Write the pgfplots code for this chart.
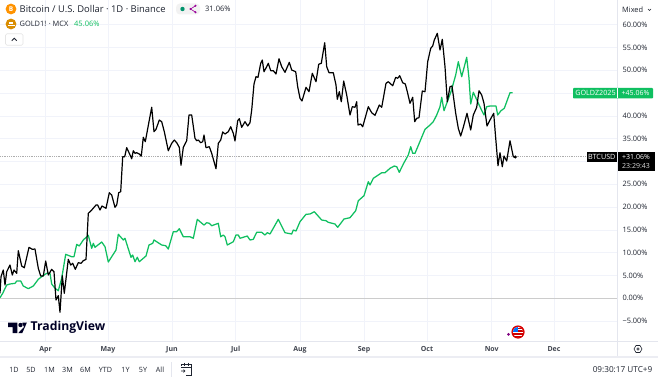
\documentclass[border=0pt]{standalone}
\usepackage{pgfplots}
\usepackage{fontspec}
\setmainfont{Open Sans}
\pgfplotsset{compat=1.18}
\definecolor{tvgreen}{HTML}{0FBF60}
\definecolor{gridc}{HTML}{F1F3FA}
\definecolor{sepc}{HTML}{E4E6EE}
\definecolor{txt}{HTML}{1F2430}
\begin{document}
\begin{tikzpicture}[x=1pt,y=1pt]
\path[use as bounding box,fill=white] (0pt,0pt) rectangle (658pt,378pt);
\begin{axis}[
  at={(0pt,37pt)},anchor=south west,scale only axis,width=618pt,height=341pt,
  xmin=0,xmax=618,ymin=-9.36,ymax=65.42,
  axis line style={draw=none},
  xtick={45.6,108,172,235.7,300,364,427,491.7,554},
  xticklabels={Apr,May,Jun,Jul,Aug,Sep,Oct,Nov,Dec},
  ytick={-5,0,5,10,15,20,25,30,35,40,45,50,55,60},
  yticklabels={−5.00\%,0.00\%,5.00\%,10.00\%,15.00\%,20.00\%,25.00\%,{},35.00\%,40.00\%,{},50.00\%,55.00\%,60.00\%},
  yticklabel pos=right,
  major tick length=0pt,
  grid=major,grid style={gridc,line width=0.7pt},
  tick label style={font=\fontsize{7.4}{8}\selectfont,text=txt},
  yticklabel style={anchor=west,xshift=1pt},
  xticklabel style={yshift=-1.8pt,font=\fontsize{7}{8}\selectfont\bfseries,text=txt!85},
  clip=true,axis on top=false,
]
\addplot[no marks,color=black!20,line width=0.8pt,forget plot] coordinates {(0,0)(618,0)};
\addplot[no marks,color=black!32,line width=0.8pt,densely dotted,forget plot] coordinates {(0,31.06)(590,31.06)};
% GOLD1! (per cent)
\addplot[no marks,color=tvgreen,line width=1.25pt,line join=round] coordinates {
(0,0.13)(2.7,1.10)(6.7,2.92)(10,3.14)(15,3.29)(16.7,3.79)(20.7,3.79)(23.3,2.70)(28.3,2.11)(33.3,2.70)
(38.3,4.17)(41.7,4.74)(46.7,5.48)(50,5.48)(51.7,3.14)(55,2.19)(58.3,1.67)(61.7,4.39)(65.7,9.65)(71.7,9.12)
(74,9.12)(76.7,11.84)(79.3,11.47)(83.3,12.79)(88.3,13.82)(91.7,10.96)(93.3,12.06)(95,11.18)(101.7,12.35)(105,11.32)
(108.3,7.96)(116,10.59)(118.3,14.04)(123.3,12.79)(125,13.16)(131,8.99)(132.7,9.50)(135,8.03)(137.3,8.99)(139.3,8.03)
(146,9.28)(149,11.69)(152.7,12.06)(154,12.79)(161.7,11.69)(165.7,11.54)(168.3,10.81)(173.3,14.61)(176.7,14.61)(179.3,15.26)
(183.3,13.51)(190,13.51)(193.3,13.16)(197.3,17.32)(200,16.80)(204,16.07)(206.7,16.58)(209.3,16.45)(211.7,15.92)(218.3,16.45)
(220.7,13.51)(223.3,13.88)(225,13.51)(227.3,11.69)(233.3,12.41)(236,13.88)(238.3,13.88)(240,13.16)(247.3,13.66)(250,12.79)
(253.3,12.94)(256.7,14.47)(261.7,14.47)(265,13.88)(267.3,14.39)(270,14.10)(278.3,17.32)(285,14.39)(291.7,14.10)(293.3,14.98)
(296,14.76)(300,16.80)(306,18.42)(310,18.49)(314.3,18.99)(321.7,17.17)(326,17.02)(328.3,16.67)(335,16.29)(337.7,15.57)
(344,17.39)(350,17.68)(355.7,19.21)(358.3,21.40)(364,22.50)(368.3,25.57)(370,24.85)(373.3,26.32)(381.7,27.54)(385,27.54)
(390,28.51)(394.3,29.01)(396.7,28.86)(399.3,27.63)(403.3,29.45)(408.3,31.43)(410.7,33.25)(412.7,31.80)(415,31.80)(425,37.06)
(430,38.00)(433.3,38.73)(436.7,40.20)(440,42.02)(441.7,44.08)(444,41.14)(447.3,43.11)(451,45.31)(455.7,48.97)(458.3,51.89)
(461.7,48.60)(466.7,52.85)(469,48.25)(470.7,42.61)(473.3,45.18)(477.3,43.27)(480.7,41.67)(484,40.20)(486.7,42.02)(490,42.17)
(496,42.17)(497.7,40.20)(501,41.14)(504.3,41.67)(510,45.09)(512.7,45.06)
};
% BTCUSD (per cent)
\addplot[no marks,color=black,line width=1.2pt,line join=round] coordinates {
(0,1.10)(1,4.74)(3.3,6.21)(5,2.92)(6.7,5.83)(10,7.30)(12.3,5.11)(14,6.21)(16.7,5.48)(18.3,10.44)
(21.7,7.08)(24.3,6.71)(29,11.18)(32.3,10.75)(35,10.81)(38.3,6.58)(40.7,4.89)(43.3,4.89)(45.7,8.18)(48.3,5.11)
(51.7,6.36)(54,5.83)(56,-0.37)(58.3,0.57)(60,-3.07)(62.3,4.96)(64.3,1.10)(68.3,8.55)(70.7,7.30)(72.7,7.68)
(75.3,6.36)(78.3,7.81)(81,7.68)(83.3,8.25)(86,8.55)(88.3,18.64)(91.7,19.36)(96,20.46)(97.7,20.46)(100,19.36)
(102,20.24)(106,19.74)(109.3,23.16)(111.7,22.65)(115,19.96)(116.7,20.46)(118.7,23.16)(120.7,23.38)(122.7,31.05)(124.7,31.05)
(126.7,33.03)(129.3,31.80)(131.7,30.61)(133.3,32.37)(135,31.80)(136.7,31.93)(139.3,31.64)(141.3,31.21)(143.3,35.31)(145.3,34.34)
(148.7,38.38)(151.7,41.89)(154,36.54)(156,37.06)(159.3,39.10)(161.7,38.73)(164.3,36.54)(168.3,32.37)(171.7,33.99)(174.3,34.71)
(176.7,34.12)(179.3,33.11)(181,29.17)(183.3,33.11)(186.7,34.56)(189,40.20)(191.7,40.20)(195,35.09)(196.7,34.56)(198.3,34.71)
(200.7,34.12)(202.7,34.34)(204,35.81)(206,33.03)(209.3,33.25)(211.7,31.80)(216,28.42)(218.3,33.99)(220.7,34.71)(222.7,36.47)
(225,36.03)(228.3,36.54)(230.7,37.63)(233.3,36.18)(235,34.50)(237.7,38.95)(239.3,39.39)(241.7,37.50)(245,38.73)(247.7,37.79)
(250,38.51)(251.7,41.29)(254,47.00)(256,48.60)(258,48.46)(260.7,51.54)(262.3,52.26)(264,49.69)(266.7,50.79)(268.3,51.54)
(270.7,49.91)(273.3,49.91)(276,49.19)(279,52.54)(281.7,50.79)(285,49.56)(289.3,51.75)(291.7,50.07)(295.7,49.69)(297.7,46.40)
(300,43.86)(302,43.27)(306,46.27)(309,45.31)(312.3,49.34)(316,47.50)(318.7,51.32)(321.3,51.54)(324.7,56.05)(326.7,50.79)
(329,49.47)(333.3,49.47)(336,46.78)(337.3,43.64)(339.3,45.31)(341.3,43.11)(343.7,47.65)(346.7,44.58)(350,40.20)(352.3,42.02)
(355,41.89)(356.7,43.11)(358,38.00)(360.7,38.22)(362.7,37.63)(368.3,42.02)(371.7,40.70)(375,40.13)(379.3,42.39)(381.7,41.89)
(386,47.15)(388.3,47.50)(392.7,46.62)(395.7,48.46)(397.7,48.25)(399.7,48.82)(402.7,47.28)(405.3,47.00)(407.3,45.31)(410,42.76)
(412.7,44.08)(414.7,38.73)(416.7,39.47)(419,39.61)(422.3,45.46)(425,45.31)(427.7,51.89)(430.7,54.82)(432.7,55.33)(434.3,56.64)
(437.3,58.11)(440,54.45)(442.3,56.80)(445,50.79)(447.3,43.11)(450,46.40)(452,46.56)(455.7,40.57)(458.3,37.28)(460.7,35.59)
(463.3,37.50)(467,40.57)(470.7,36.91)(473.3,40.20)(476.7,41.89)(479,45.53)(481.7,44.58)(484,42.76)(487,37.79)(490,39.10)
(493.7,40.57)(495.3,36.18)(498,29.08)(500,31.93)(502.3,28.86)(504,31.21)(506.7,30.11)(510,34.56)(513.3,31.05)(515.3,30.83)
};
\addplot[only marks,mark=*,mark size=1.3pt,color=black] coordinates {(515.3,31.0)};
\end{axis}
\begin{scope}[x=1pt,y=-1pt,shift={(0pt,378pt)}]
% separators
\draw[sepc,line width=0.7pt] (0,341)--(658,341);
\draw[sepc,line width=0.7pt] (617.5,0)--(617.5,357);
\fill[sepc!70] (0,356.3) rectangle (658,358);
\draw[sepc,line width=0.7pt] (171.5,362)--(171.5,377);
% header row 1
\fill[orange!85!yellow] (11,9) circle (5.4);
\node[text=white,font=\fontsize{6.5}{7}\selectfont\bfseries] at (11,9) {B};
\node[anchor=west,inner sep=0,text=txt,font=\fontsize{9.4}{11}\selectfont] at (19.5,9.3) {Bitcoin / U.S. Dollar · 1D · Binance};
\fill[black!5,rounded corners=4pt] (176,3.5) rectangle (200,14.5);
\fill[teal!85!green] (182.5,9) circle (2.2);
\fill[violet!80!magenta] (190.5,9) circle (1.1) (195.5,5.8) circle (1.1) (195.5,12.2) circle (1.1);
\draw[violet!80!magenta,line width=0.6pt] (195.5,5.8)--(190.5,9)--(195.5,12.2);
\node[anchor=west,inner sep=0,text=txt,font=\fontsize{7.5}{9}\selectfont] at (205,9.3) {31.06\%};
% header row 2
\fill[orange!70!yellow!85!black] (11,24) circle (5.4);
\fill[white] (7.5,26.5) rectangle (14.5,24.8);
\fill[white] (9,24.3) rectangle (13,22);
\node[anchor=west,inner sep=0,text=txt,font=\fontsize{7.4}{8}\selectfont] at (19.5,24.2) {GOLD1! · MCX};
\node[anchor=west,inner sep=0,text=tvgreen,font=\fontsize{7.5}{8}\selectfont] at (74,24.2) {45.06\%};
\draw[black!10,fill=white,rounded corners=1.5pt,line width=0.6pt] (5.5,33.8) rectangle (23,45.3);
\draw[txt,line width=0.9pt] (11.7,40.7)--(14.2,38.3)--(16.7,40.7);
% Mixed button
\fill[white] (619,2) rectangle (658,18);
\node[anchor=west,inner sep=0,text=txt,font=\fontsize{7.4}{8}\selectfont] at (622,9.7) {Mixed};
\draw[txt,line width=0.6pt] (648,9)--(649.5,10.5)--(651,9);
% tags
\fill[tvgreen,rounded corners=0.8pt] (573,88) rectangle (653,98.5);
\draw[white,line width=0.6pt] (617.5,88)--(617.5,98.5);
\node[text=white,inner sep=0,font=\fontsize{7.2}{8}\selectfont] at (595.5,93.4) {GOLDZ2025};
\node[text=white,inner sep=0,font=\fontsize{7}{8}\selectfont] at (635.5,93.4) {+45.06\%};
\fill[black] (586.5,152) rectangle (617,162);
\fill[black] (618,152) rectangle (655,171);
\node[text=white,inner sep=0,font=\fontsize{7.2}{8}\selectfont] at (601.8,157.2) {BTCUSD};
\node[text=white,inner sep=0,font=\fontsize{7}{8}\selectfont] at (636,157.2) {+31.06\%};
\node[text=white!85!black,inner sep=0,font=\fontsize{7}{8}\selectfont] at (636,166.3) {23:29:43};
% TradingView logo
\fill[black!85!blue] (8,322.7)--(17.3,322.7)--(17.3,333)--(12.6,333)--(12.6,327.2)--(8,327.2)--cycle;
\fill[black!85!blue] (20.5,325) circle (2.2);
\fill[black!85!blue] (22.3,333)--(26.8,322.7)--(22.6,322.7)--(22.3,323.4)--(24,327)--(18.3,333)--cycle;
\node[anchor=west,inner sep=0,text=black!85!blue,font=\fontsize{12.2}{14}\selectfont\bfseries] at (30.5,327.5) {TradingView};
% flag icon
\fill[red!85!black] (518,332) circle (6.6);
\fill[white] (518,332) circle (5.2);
\fill[red!80!black] (513,333.3) rectangle (523,334.5);
\fill[red!80!black] (514,336) rectangle (522,337);
\begin{scope}
\clip (518,332) circle (5.2);
\fill[blue!55!cyan] (512,326) rectangle (518,332);
\fill[red!80!black] (518,328) rectangle (524,329.2);
\fill[red!80!black] (518,330.4) rectangle (524,331.6);
\end{scope}
\fill[violet] (508.5,334.3) circle (1.5);
% settings icon
\draw[txt,line width=0.6pt] (634,349)--(636,345.5)--(640,345.5)--(642,349)--(640,352.5)--(636,352.5)--cycle;
\draw[txt,line width=0.6pt] (638,349) circle (1.3);
% bottom toolbar
\foreach \lab/\xx in {1D/14,5D/31,1M/49.5,3M/67.5,6M/85.5,YTD/105.5,1Y/125.5,5Y/143,All/160}
  \node[text=txt,inner sep=0,font=\fontsize{7.2}{8}\selectfont] at (\xx,370) {\lab};
\draw[txt,line width=0.6pt] (181,366)--(181,364.5)--(191.5,364.5)--(191.5,375)--(186,375);
\draw[txt,line width=0.6pt] (181,367.5)--(191.5,367.5) (184,362.5)--(184,365.5) (188.5,362.5)--(188.5,365.5);
\draw[txt,line width=0.6pt] (181,371)--(185,371) (183.5,369.5)--(185,371)--(183.5,372.5);
\node[anchor=east,inner sep=0,text=txt,font=\fontsize{8.2}{10}\selectfont] at (652.5,370) {09:30:17 UTC+9};
\end{scope}
\end{tikzpicture}
\end{document}
